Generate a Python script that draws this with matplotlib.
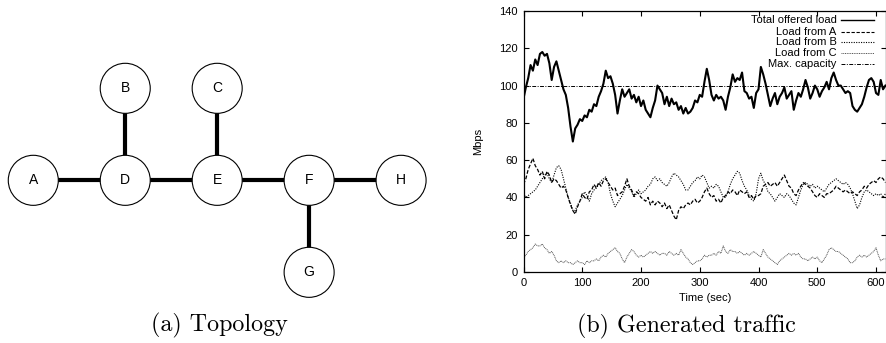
import numpy as np
import matplotlib
matplotlib.use("Agg")
import matplotlib.pyplot as plt
from matplotlib.patches import Circle
from matplotlib.lines import Line2D

# ---------------- data ----------------
# topology (grid units)
node_names = ["A", "B", "C", "D", "E", "F", "G", "H"]
node_x = [0, 1, 2, 1, 2, 3, 3, 4]
node_y = [0, 1, 1, 0, 0, 0, -1, 0]
edges = [("A", "D"), ("B", "D"), ("D", "E"), ("C", "E"), ("E", "F"), ("F", "H"), ("F", "G")]

# traffic, sampled every 4 s from 0 to 616 s
time_step = 4
total_load = [
    93, 99, 104, 111, 108, 114, 111, 117, 118, 116, 117, 112, 103, 110, 113,
    108, 103, 98, 95, 88, 78, 70, 77, 79, 82, 81, 84, 83, 87, 86,
    90, 89, 94, 97, 101, 108, 104, 105, 101, 95, 85, 92, 98, 94, 96,
    98, 93, 95, 91, 94, 89, 92, 87, 85, 83, 88, 92, 100, 98, 96,
    90, 94, 89, 93, 90, 91, 87, 89, 85, 88, 85, 86, 88, 92, 91,
    95, 94, 102, 109, 103, 95, 92, 95, 93, 94, 92, 87, 94, 99, 106,
    102, 104, 103, 107, 97, 96, 93, 94, 88, 96, 98, 110, 106, 101, 95,
    89, 93, 96, 90, 94, 96, 99, 93, 95, 97, 87, 92, 96, 94, 98,
    103, 99, 93, 96, 100, 98, 94, 97, 99, 102, 98, 104, 107, 103, 100,
    100, 98, 96, 97, 96, 89, 87, 86, 88, 90, 94, 99, 103, 104, 102,
    96, 95, 103, 98, 100,
]
load_a = [
    47, 50, 55, 58, 61, 57, 55, 52, 54, 50, 54, 52, 48, 50, 49,
    47, 45, 46, 44, 40, 36, 33, 31, 35, 38, 42, 40, 39, 43, 44,
    47, 45, 48, 46, 49, 50, 48, 46, 44, 45, 41, 42, 43, 46, 50,
    46, 44, 41, 43, 42, 40, 39, 38, 40, 36, 38, 36, 38, 37, 35,
    37, 34, 36, 33, 30, 28, 33, 35, 34, 36, 37, 36, 38, 39, 37,
    38, 40, 43, 45, 42, 40, 41, 38, 39, 37, 40, 41, 43, 42, 44,
    43, 41, 44, 43, 42, 43, 40, 41, 39, 41, 41, 42, 46, 47, 48,
    46, 47, 48, 46, 48, 50, 52, 49, 46, 45, 42, 41, 44, 46, 48,
    47, 46, 45, 43, 41, 40, 42, 41, 40, 42, 42, 43, 44, 46, 45,
    44, 43, 44, 43, 42, 43, 42, 41, 43, 44, 46, 45, 47, 48, 49,
    48, 50, 51, 50, 48,
]
load_b = [
    42, 40, 41, 42, 43, 44, 46, 48, 50, 52, 53, 50, 48, 52, 56,
    57, 55, 50, 45, 40, 37, 33, 33, 36, 38, 40, 43, 41, 38, 42,
    44, 45, 47, 49, 50, 51, 48, 42, 38, 35, 37, 39, 41, 44, 47,
    45, 43, 40, 42, 44, 42, 43, 44, 46, 47, 50, 51, 49, 50, 48,
    47, 46, 48, 51, 53, 52, 51, 49, 47, 44, 44, 46, 48, 49, 51,
    50, 52, 51, 48, 45, 46, 45, 47, 46, 43, 40, 40, 43, 47, 50,
    52, 54, 53, 49, 46, 44, 41, 39, 38, 42, 50, 53, 49, 47, 43,
    42, 40, 38, 40, 42, 41, 40, 42, 41, 39, 37, 36, 40, 44, 47,
    48, 47, 46, 47, 45, 46, 45, 44, 43, 45, 47, 48, 49, 50, 49,
    48, 47, 48, 47, 45, 42, 38, 34, 36, 40, 43, 44, 43, 42, 41,
    42, 41, 42, 40, 42,
]
load_c = [
    8, 9, 11, 12, 13, 15, 14, 14, 15, 13, 12, 10, 11, 9, 6,
    5, 6, 5, 6, 5, 5, 4, 5, 6, 5, 5, 4, 6, 5, 6,
    6, 7, 6, 8, 9, 8, 10, 11, 12, 13, 11, 10, 7, 5, 8,
    10, 12, 11, 9, 8, 9, 8, 9, 10, 11, 10, 11, 10, 9, 10,
    10, 9, 11, 10, 9, 10, 9, 12, 10, 8, 7, 5, 4, 5, 6,
    6, 7, 9, 8, 9, 9, 10, 9, 11, 10, 14, 11, 10, 12, 11,
    11, 10, 11, 10, 9, 10, 9, 10, 11, 10, 9, 8, 12, 10, 8,
    7, 6, 5, 4, 6, 7, 8, 9, 10, 9, 10, 9, 10, 8, 7,
    7, 6, 7, 8, 7, 8, 6, 5, 7, 9, 12, 13, 12, 11, 11,
    10, 9, 8, 7, 5, 5, 6, 8, 9, 8, 9, 8, 9, 10, 11,
    13, 9, 6, 7, 7,
]
max_capacity = 100
series_labels = ["Total offered load", "Load from A", "Load from B", "Load from C", "Max. capacity"]
x_ticks = [0, 100, 200, 300, 400, 500, 600]
y_ticks = [0, 20, 40, 60, 80, 100, 120, 140]

time = np.arange(len(total_load)) * time_step

# ---------------- figure ----------------
W, H = 887, 343
fig = plt.figure(figsize=(W / 100, H / 100), dpi=100)
sans = "Liberation Sans"
serif = "cmr10"
fs = 8.0

# ---- (a) topology ----
axl = fig.add_axes([0.0002, 0.0988, 0.4893, 0.751])
axl.set_xlim(-0.36, 4.36)
axl.set_ylim(-1.4, 1.4)
axl.axis("off")
pos = {n: (x, y) for n, x, y in zip(node_names, node_x, node_y)}
for a, b in edges:
    axl.plot([pos[a][0], pos[b][0]], [pos[a][1], pos[b][1]], color="black",
             lw=3.0, solid_capstyle="butt", zorder=1)
for n in node_names:
    x, y = pos[n]
    axl.add_patch(Circle((x, y), 0.272, facecolor="white", edgecolor="black", lw=0.8, zorder=2))
    axl.text(x, y, n, ha="center", va="center", fontsize=10, family=sans, zorder=3)

fig.text(219 / W, 1 - 325 / H, "(a) Topology", ha="center", va="center",
         fontsize=17.3, family=serif)

# ---- (b) traffic ----
axr = fig.add_axes([523.5 / W, 1 - 272 / H, (886 - 523.5) / W, (272 - 11) / H])
axr.plot(time, total_load, color="black", lw=1.5, zorder=5)
axr.plot(time, load_a, color="black", lw=0.9, linestyle=(0, (3, 1.5)), zorder=4)
axr.plot(time, load_b, color="black", lw=0.8, linestyle=(0, (1, 1.2)), zorder=3)
axr.plot(time, load_c, color="#555555", lw=0.7, linestyle=(0, (1, 0.8)), zorder=2)
axr.axhline(max_capacity, color="black", lw=0.7, linestyle=(0, (4, 1.5, 1, 1.5)), zorder=1)

axr.set_xlim(0, 617)
axr.set_ylim(0, 140)
axr.set_xticks(x_ticks)
axr.set_yticks(y_ticks)
axr.tick_params(direction="in", length=3.5, width=0.8, top=True, right=True,
                labelsize=fs)
axr.tick_params(axis="y", pad=4)
axr.tick_params(axis="x", pad=4)
for lab in axr.get_xticklabels() + axr.get_yticklabels():
    lab.set_family(sans)
for s in axr.spines.values():
    s.set_linewidth(0.9)
axr.set_xlabel("Time (sec)", fontsize=fs, family=sans, labelpad=4)
axr.set_ylabel("Mbps", fontsize=fs, family=sans, labelpad=12)

# gnuplot-style key: right-aligned text followed by line sample
styles = [
    dict(color="black", lw=1.0, linestyle="-"),
    dict(color="black", lw=0.8, linestyle=(0, (3, 1.5))),
    dict(color="black", lw=0.8, linestyle=(0, (1, 1.2))),
    dict(color="#555555", lw=0.7, linestyle=(0, (1, 0.8))),
    dict(color="black", lw=0.7, linestyle=(0, (4, 1.5, 1, 1.5))),
]
key_y = [0.9655, 0.921, 0.880, 0.838, 0.797]
for lab, st, ky in zip(series_labels, styles, key_y):
    axr.text(0.864, ky, lab, transform=axr.transAxes, ha="right", va="center",
             fontsize=fs, family=sans, zorder=6)
    axr.add_line(Line2D([0.877, 0.968], [ky, ky], transform=axr.transAxes, zorder=6, **st))

fig.text(686.5 / W, 1 - 326 / H, "(b) Generated traffic", ha="center", va="center",
         fontsize=17.3, family=serif)

fig.savefig("out.png", dpi=100)
